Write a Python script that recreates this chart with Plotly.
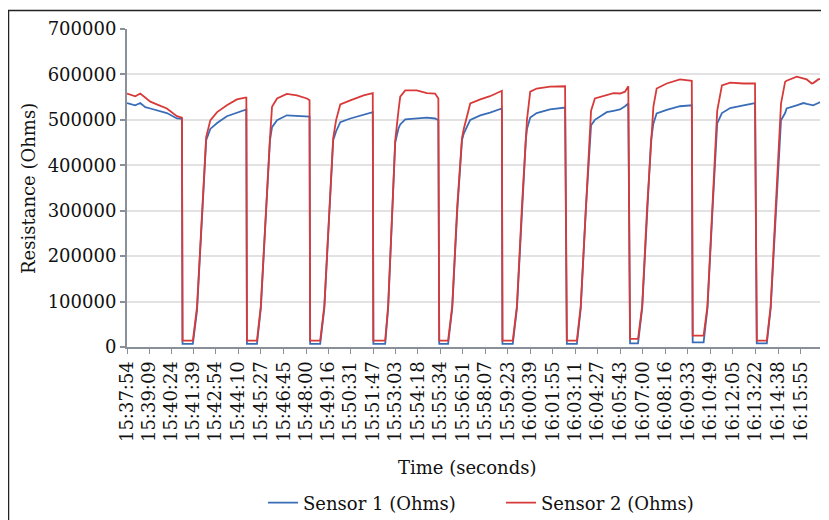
import plotly.graph_objects as go

# Time in seconds elapsed since 15:37:54
t_sec = [0, 28, 45, 62, 79, 105, 135, 169, 186,
         188, 223, 237, 254, 268, 282, 305, 338, 372, 400, 404,
         406, 440, 453, 470, 484, 491, 508, 541, 575, 609, 618,
         620, 654, 668, 685, 698, 708, 722, 756, 801, 832,
         834, 874, 884, 898, 908, 919, 925, 942, 981, 1015, 1043, 1054,
         1057, 1087, 1101, 1118, 1134, 1140, 1162, 1196, 1229, 1269,
         1271, 1306, 1320, 1337, 1350, 1354, 1365, 1387, 1432, 1483,
         1489, 1523, 1536, 1553, 1567, 1571, 1584, 1624, 1647, 1669, 1686, 1697,
         1703, 1730, 1744, 1761, 1774, 1782, 1793, 1827, 1872, 1912,
         1915, 1952, 1965, 1982, 1995, 1998, 2014, 2042, 2087, 2126,
         2132, 2166, 2179, 2196, 2210, 2214, 2228, 2233, 2267, 2290, 2301, 2318, 2323, 2340, 2346]

sensor2 = [558000, 552000, 558000, 548000, 540000, 533000, 525000, 508000, 505000,
           14000, 14000, 88000, 308000, 462000, 499000, 517000, 532000, 545000, 549000, 549000,
           14000, 14000, 90000, 310000, 460000, 529000, 547000, 557000, 554000, 547000, 543000,
           14000, 14000, 90000, 310000, 460000, 500000, 534000, 543000, 554000, 559000,
           14000, 14000, 90000, 300000, 455000, 520000, 551000, 565000, 565000, 559000, 558000, 547000,
           14000, 14000, 90000, 310000, 460000, 480000, 536000, 545000, 552000, 564000,
           14000, 14000, 90000, 310000, 460000, 500000, 562000, 569000, 573000, 574000,
           14000, 14000, 90000, 310000, 460000, 520000, 547000, 554000, 559000, 558000, 562000, 574000,
           18000, 18000, 90000, 310000, 460000, 529000, 569000, 580000, 589000, 586000,
           25000, 25000, 90000, 310000, 460000, 520000, 576000, 582000, 580000, 580000,
           14000, 14000, 90000, 310000, 460000, 536000, 584000, 586000, 595000, 592000, 589000, 580000, 581000, 589000, 590000]

sensor1 = [537000, 532000, 537000, 528000, 525000, 520000, 515000, 503000, 502000,
           7000, 7000, 80000, 300000, 455000, 480000, 493000, 508000, 516000, 523000, 523000,
           7000, 7000, 85000, 300000, 455000, 484000, 499000, 510000, 508000, 507000, 507000,
           7000, 7000, 85000, 300000, 455000, 475000, 495000, 503000, 512000, 517000,
           7000, 7000, 85000, 290000, 450000, 481000, 490000, 501000, 504000, 505000, 503000, 499000,
           7000, 7000, 85000, 300000, 455000, 470000, 500000, 510000, 516000, 525000,
           7000, 7000, 85000, 300000, 455000, 480000, 505000, 515000, 523000, 527000,
           7000, 7000, 85000, 300000, 455000, 488000, 500000, 517000, 520000, 523000, 530000, 536000,
           8000, 8000, 85000, 300000, 455000, 492000, 514000, 522000, 530000, 532000,
           10000, 10000, 85000, 300000, 455000, 492000, 515000, 526000, 532000, 537000,
           8000, 8000, 85000, 300000, 455000, 499000, 515000, 525000, 532000, 537000, 535000, 532000, 532000, 537000, 539000]

tick_labels = ["15:37:54", "15:39:09", "15:40:24", "15:41:39", "15:42:54", "15:44:10",
               "15:45:27", "15:46:45", "15:48:00", "15:49:16", "15:50:31", "15:51:47",
               "15:53:03", "15:54:18", "15:55:34", "15:56:51", "15:58:07", "15:59:23",
               "16:00:39", "16:01:55", "16:03:11", "16:04:27", "16:05:43", "16:07:00",
               "16:08:16", "16:09:33", "16:10:49", "16:12:05", "16:13:22", "16:14:38",
               "16:15:55"]

y_ticks = [0, 100000, 200000, 300000, 400000, 500000, 600000, 700000]


def to_sec(s):
    h, m, sec = (int(v) for v in s.split(":"))
    return h * 3600 + m * 60 + sec


t0 = to_sec(tick_labels[0])
tick_vals = [to_sec(s) - t0 for s in tick_labels]

FONT = "DejaVu Serif"
BLUE = "#3a6db8"
RED = "#d83a3a"
AXIS = "#8a9099"
TXT = "#111111"

# the page body has an 8px margin, so the figure is sized to fit the window
W, H = 821, 512

fig = go.Figure()
fig.add_trace(go.Scatter(x=t_sec, y=sensor1, mode="lines", name="Sensor 1 (Ohms)",
                         line=dict(color=BLUE, width=1.8)))
fig.add_trace(go.Scatter(x=t_sec, y=sensor2, mode="lines", name="Sensor 2 (Ohms)",
                         line=dict(color=RED, width=1.8)))

fig.update_layout(
    width=W, height=H,
    margin=dict(l=119, r=9, t=21, b=173, autoexpand=False),
    paper_bgcolor="white", plot_bgcolor="white",
    font=dict(family=FONT, size=18, color=TXT),
    showlegend=True,
    legend=dict(orientation="h", xref="container", yref="container",
                x=255 / W, xanchor="left", y=1 - 495 / H, yanchor="middle",
                font=dict(family=FONT, size=18, color=TXT),
                entrywidth=193, bgcolor="rgba(0,0,0,0)"),
    xaxis=dict(range=[0, 2346], tickvals=tick_vals, ticktext=tick_labels, tickangle=-90,
               showgrid=False, zeroline=False, showline=True, linecolor=AXIS, linewidth=2,
               ticks="outside", ticklen=5, tickcolor=AXIS, tickwidth=1,
               automargin=False,
               tickfont=dict(family=FONT, size=18, color=TXT)),
    yaxis=dict(range=[0, 700000], tickvals=y_ticks, ticktext=[str(v) for v in y_ticks],
               showgrid=True, gridcolor="#e2e2e2", gridwidth=1.5, zeroline=False,
               showline=True, linecolor=AXIS, linewidth=2,
               ticks="outside", ticklen=5, tickcolor=AXIS, tickwidth=1.5,
               automargin=False,
               tickfont=dict(family=FONT, size=18, color=TXT)),
    annotations=[
        dict(text="Time (seconds)", xref="paper", yref="paper", x=0.4906, y=-0.3774,
             xanchor="center", yanchor="middle", showarrow=False,
             font=dict(family=FONT, size=18, color=TXT)),
        dict(text="Resistance (Ohms)", xref="paper", yref="paper", x=-0.1429, y=0.5,
             xanchor="center", yanchor="middle", showarrow=False, textangle=-90,
             font=dict(family=FONT, size=18, color=TXT)),
    ],
    shapes=[
        dict(type="rect", xref="paper", yref="paper", x0=-0.1710, x1=1.05, y0=-0.6, y1=1.0582,
             line=dict(color="#222222", width=1.5), fillcolor="rgba(0,0,0,0)", layer="below"),
    ],
)

fig.write_html("out.html")
